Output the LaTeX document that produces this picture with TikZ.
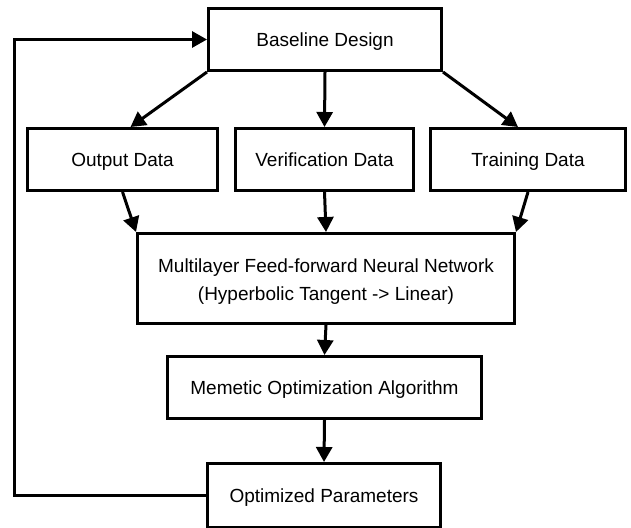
\documentclass[tikz,border=0pt]{standalone}
\usepackage{fontspec}
\setmainfont{Liberation Sans}
\usetikzlibrary{arrows.meta}
\begin{document}
\begin{tikzpicture}[x=1pt,y=-1pt,
  box/.style={draw=black,line width=3pt,rectangle,inner sep=0pt,align=center,
    minimum height=62pt,text height=13.6pt,text depth=0pt,
    font=\fontsize{19}{27.5}\selectfont},
  conn/.style={line width=3pt,-{Triangle[length=15pt,width=16pt]}}]
\useasboundingbox (0,0) rectangle (631,527);
\node[box,minimum width=233pt] (base)  at (325,39.5)  {Baseline Design};
\node[box,minimum width=190pt] (out)   at (122.5,159.5) {Output Data};
\node[box,minimum width=178pt] (ver)   at (324.5,159.5) {Verification Data};
\node[box,minimum width=195pt] (train) at (528,159.5) {Training Data};
\node[box,minimum width=377pt,minimum height=90pt,text height=43.6pt] (mlp) at (326,278.5)
  {Multilayer Feed-forward Neural Network\\(Hyperbolic Tangent -> Linear)};
\node[box,minimum width=314pt] (mem)   at (324.5,387.5) {Memetic Optimization Algorithm};
\node[box,minimum width=233pt,minimum height=64pt] (opt) at (324,495.5) {Optimized Parameters};
\coordinate (loop) at (14,0);
% fan-out from the baseline design
\draw[conn] (base.south west) -- ([xshift=8pt]out.north);
\draw[conn] (base.south) -- (ver.north);
\draw[conn] (base.south east) -- ([xshift=-10pt]train.north);
% data sets into the network
\draw[conn] (out.south) -- (mlp.north west);
\draw[conn] (ver.south) -- (mlp.north);
\draw[conn] (train.south) -- (mlp.north east);
% main chain
\draw[conn] (mlp.south) -- (mem.north);
\draw[conn] (mem.south) -- (opt.north);
% feedback loop
\draw[conn,line join=miter] (opt.west) -- (opt.west -| loop) -- (base.west -| loop) -- (base.west);
\end{tikzpicture}
\end{document}
